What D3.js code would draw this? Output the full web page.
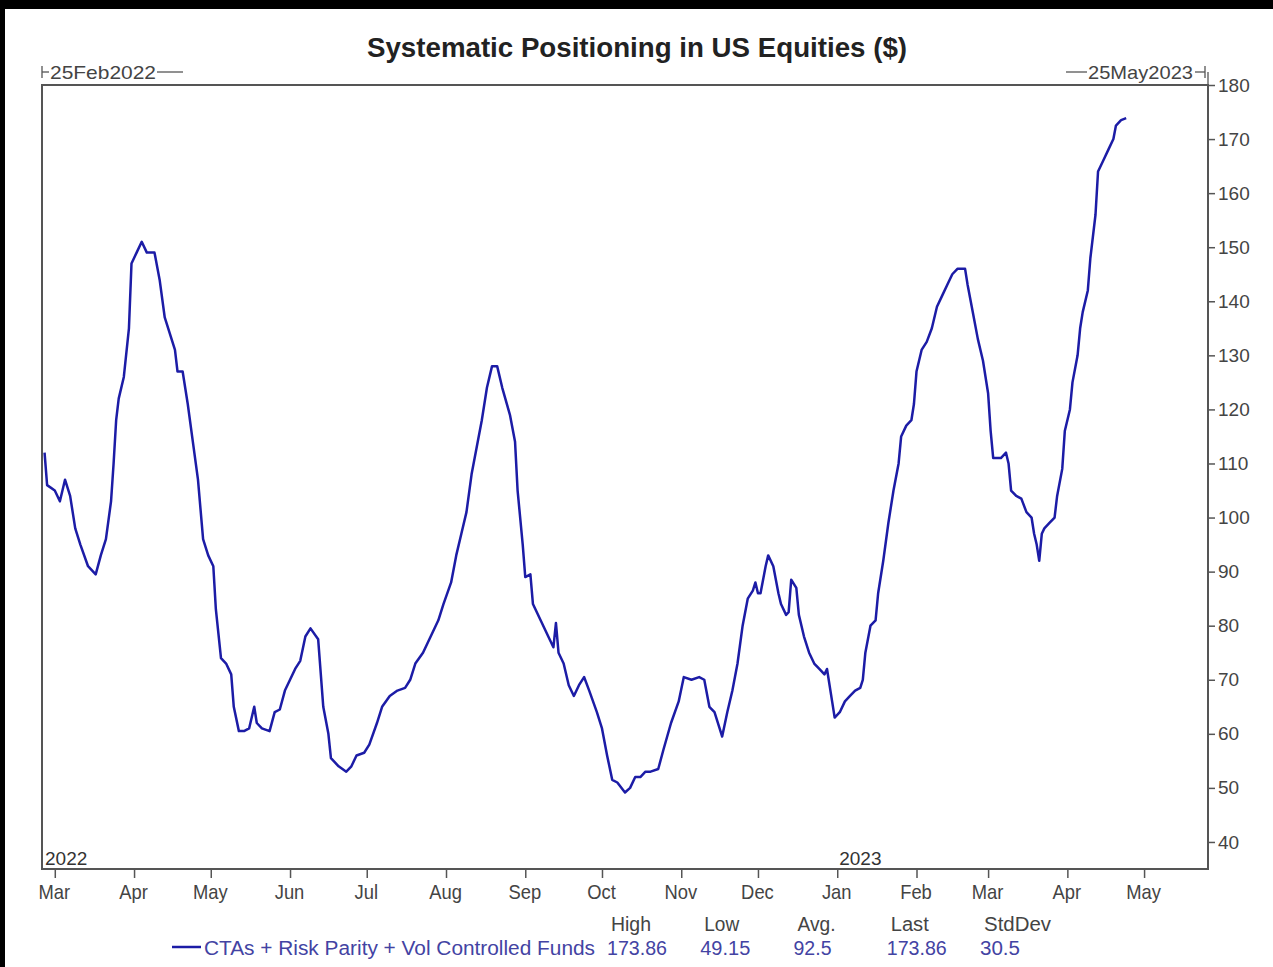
<!DOCTYPE html>
<html>
<head>
<meta charset="utf-8">
<script src="https://cdn.jsdelivr.net/npm/d3@7"></script>
<style>
  html, body { margin: 0; padding: 0; background: #fff; }
  svg { display: block; }
  text { font-family: "Liberation Sans", Arial, sans-serif; }
</style>
</head>
<body>
<svg id="chart" width="1273" height="967"></svg>
<script>
// ---------------- data ----------------
const dates = [
  "2022-02-25","2022-02-26","2022-03-01","2022-03-03","2022-03-05","2022-03-07","2022-03-09","2022-03-11","2022-03-14","2022-03-17",
  "2022-03-19","2022-03-21","2022-03-23","2022-03-24","2022-03-25","2022-03-26","2022-03-28","2022-03-30","2022-03-31","2022-04-02",
  "2022-04-04","2022-04-06","2022-04-09","2022-04-11","2022-04-13","2022-04-15","2022-04-17","2022-04-18","2022-04-20","2022-04-22",
  "2022-04-24","2022-04-26","2022-04-28","2022-04-30","2022-05-02","2022-05-03","2022-05-05","2022-05-07","2022-05-09","2022-05-10",
  "2022-05-12","2022-05-14","2022-05-16","2022-05-18","2022-05-19","2022-05-21","2022-05-24","2022-05-26","2022-05-28","2022-05-30",
  "2022-06-01","2022-06-03","2022-06-05","2022-06-07","2022-06-09","2022-06-12","2022-06-14","2022-06-16","2022-06-17","2022-06-20",
  "2022-06-23","2022-06-25","2022-06-27","2022-06-30","2022-07-02","2022-07-05","2022-07-07","2022-07-10","2022-07-13","2022-07-16",
  "2022-07-18","2022-07-20","2022-07-23","2022-07-26","2022-07-29","2022-07-31","2022-08-03","2022-08-05","2022-08-07","2022-08-09",
  "2022-08-11","2022-08-13","2022-08-15","2022-08-17","2022-08-19","2022-08-21","2022-08-23","2022-08-26","2022-08-28","2022-08-29",
  "2022-08-31","2022-09-01","2022-09-03","2022-09-04","2022-09-07","2022-09-10","2022-09-12","2022-09-13","2022-09-14","2022-09-16",
  "2022-09-18","2022-09-20","2022-09-22","2022-09-24","2022-09-26","2022-09-29","2022-10-01","2022-10-03","2022-10-05","2022-10-07",
  "2022-10-10","2022-10-12","2022-10-14","2022-10-16","2022-10-18","2022-10-20","2022-10-23","2022-10-25","2022-10-28","2022-10-31",
  "2022-11-02","2022-11-05","2022-11-08","2022-11-10","2022-11-12","2022-11-14","2022-11-16","2022-11-17","2022-11-19","2022-11-21",
  "2022-11-23","2022-11-25","2022-11-27","2022-11-29","2022-11-30","2022-12-01","2022-12-02","2022-12-04","2022-12-05","2022-12-07",
  "2022-12-09","2022-12-10","2022-12-12","2022-12-13","2022-12-14","2022-12-16","2022-12-17","2022-12-19","2022-12-21","2022-12-23",
  "2022-12-25","2022-12-27","2022-12-28","2022-12-30","2022-12-31","2023-01-02","2023-01-04","2023-01-06","2023-01-08","2023-01-10",
  "2023-01-11","2023-01-12","2023-01-14","2023-01-16","2023-01-17","2023-01-19","2023-01-21","2023-01-23","2023-01-25","2023-01-26",
  "2023-01-28","2023-01-30","2023-01-31","2023-02-01","2023-02-03","2023-02-05","2023-02-07","2023-02-09","2023-02-11","2023-02-13",
  "2023-02-15","2023-02-17","2023-02-20","2023-02-21","2023-02-23","2023-02-25","2023-02-27","2023-03-01","2023-03-02","2023-03-03",
  "2023-03-06","2023-03-08","2023-03-09","2023-03-10","2023-03-12","2023-03-14","2023-03-16","2023-03-18","2023-03-19","2023-03-20",
  "2023-03-21","2023-03-22","2023-03-23","2023-03-25","2023-03-27","2023-03-28","2023-03-30","2023-03-31","2023-04-02","2023-04-03",
  "2023-04-05","2023-04-06","2023-04-07","2023-04-09","2023-04-10","2023-04-12","2023-04-13","2023-04-15","2023-04-17","2023-04-19",
  "2023-04-20","2023-04-22","2023-04-24"
];
const values = [
  112,106,105,103,107,104,98,95,91,89.5,
  93,96,103,110,118,122,126,135,147,149,
  151,149,149,144,137,134,131,127,127,121,
  114,107,96,93,91,83,74,73,71,65,
  60.5,60.5,61,65,62,61,60.5,64,64.5,68,
  70,72,73.5,78,79.5,77.5,65,60,55.5,54,
  53,54,56,56.5,58,62,65,67,68,68.5,
  70,73,75,78,81,84,88,93,97,101,
  108,113,118,124,128,128,124,119,114,105,
  95,89,89.5,84,81,78,76,80.5,75,73,
  69,67,69,70.5,68,64,61,56,51.5,51,
  49.15,50,52,52,53,53,53.5,57,62,66,
  70.5,70,70.5,70,65,64,61,59.5,64,68,
  73,80,85,86.5,88,86,86,91,93,91,
  86,84,82,82.5,88.5,87,82,78,75,73,
  72,71,72,66,63,64,66,67,68,68.5,
  70,75,80,81,86,92,99,105,110,115,
  117,118,121,127,131,132.5,135,139,141,143,
  145,146,146,143,138,133,129,123,116,111,
  111,112,110,105,104,103.5,101,100,97,95,
  92,97,98,99,100,104,109,116,120,125,
  130,135,138,142,148,156,164,166,168,170,
  172.5,173.5,173.86
];
const yTicks = [40,50,60,70,80,90,100,110,120,130,140,150,160,170,180];
const seriesName = "CTAs + Risk Parity + Vol Controlled Funds";
const statNames = ["High","Low","Avg.","Last","StdDev"];
const statValues = ["173.86","49.15","92.5","173.86","30.5"];
const title = "Systematic Positioning in US Equities ($)";
const startLabel = "25Feb2022";
const endLabel = "25May2023";
const yearLabels = ["2022","2023"];

// ---------------- drawing ----------------
const parse = d3.timeParse("%Y-%m-%d");
const data = dates.map((d, i) => ({ date: parse(d), value: values[i] }));

const svg = d3.select("#chart");
const L = 42, R = 1208, T = 85, B = 869;
const lineColor = "#1c1ca6";
const axisColor = "#555";
const textColor = "#444";
const legendColor = "#4343a3";

// black strips of the screenshot border
svg.append("rect").attr("x", 0).attr("y", 0).attr("width", 1273).attr("height", 9).attr("fill", "#000");
svg.append("rect").attr("x", 0).attr("y", 0).attr("width", 5).attr("height", 967).attr("fill", "#000");

const x = d3.scaleTime()
  .domain([parse("2022-02-24"), parse("2023-05-26")])
  .range([L, R]);
const y = d3.scaleLinear().domain([35, 180]).range([B, T]);

// title
svg.append("text")
  .attr("x", 637).attr("y", 57)
  .attr("text-anchor", "middle")
  .attr("font-size", 27).attr("font-weight", "bold")
  .attr("fill", "#222")
  .attr("textLength", 540).attr("lengthAdjust", "spacingAndGlyphs")
  .text(title);

// frame
svg.append("rect")
  .attr("x", L).attr("y", T).attr("width", R - L).attr("height", B - T)
  .attr("fill", "none").attr("stroke", axisColor).attr("stroke-width", 2);

// date range brackets
const bracketY = 72;
const g0 = svg.append("g").attr("stroke", "#555").attr("stroke-width", 1.3);
g0.append("line").attr("x1", L).attr("x2", L).attr("y1", bracketY - 6).attr("y2", bracketY + 6);
g0.append("line").attr("x1", L).attr("x2", L + 7).attr("y1", bracketY).attr("y2", bracketY);
g0.append("line").attr("x1", 157).attr("x2", 183).attr("y1", bracketY).attr("y2", bracketY);
g0.append("line").attr("x1", R - 3).attr("x2", R - 3).attr("y1", bracketY - 6).attr("y2", bracketY + 6);
g0.append("line").attr("x1", R - 13).attr("x2", R - 3).attr("y1", bracketY).attr("y2", bracketY);
g0.append("line").attr("x1", 1066).attr("x2", 1087).attr("y1", bracketY).attr("y2", bracketY);
g0.append("line").attr("x1", R).attr("x2", R).attr("y1", bracketY).attr("y2", T);
svg.append("text").attr("x", L + 8).attr("y", bracketY + 7)
  .attr("font-size", 19).attr("fill", textColor)
  .attr("textLength", 106).attr("lengthAdjust", "spacingAndGlyphs").text(startLabel);
svg.append("text").attr("x", 1088).attr("y", bracketY + 7)
  .attr("font-size", 19).attr("fill", textColor)
  .attr("textLength", 105).attr("lengthAdjust", "spacingAndGlyphs").text(endLabel);

// right axis
const yAxis = d3.axisRight(y).tickValues(yTicks).tickSize(7).tickPadding(3);
const gy = svg.append("g").attr("transform", `translate(${R},0)`).call(yAxis);
gy.select(".domain").remove();
gy.selectAll(".tick line").attr("stroke", axisColor).attr("stroke-width", 1.5);
gy.selectAll(".tick text").attr("font-size", 19).attr("fill", textColor)
  .attr("font-family", "Liberation Sans, Arial, sans-serif");

// bottom axis
const xAxis = d3.axisBottom(x)
  .ticks(d3.timeMonth.every(1))
  .tickFormat(d3.timeFormat("%b"))
  .tickSize(9).tickPadding(7);
const gx = svg.append("g").attr("transform", `translate(0,${B})`).call(xAxis);
gx.select(".domain").remove();
gx.selectAll(".tick line").attr("stroke", axisColor).attr("stroke-width", 1.5);
gx.selectAll(".tick text").attr("font-size", 20).attr("fill", textColor)
  .attr("font-family", "Liberation Sans, Arial, sans-serif")
  .attr("transform", "translate(-1,0) scale(0.92,1)");

// year labels
svg.append("text").attr("x", L + 3).attr("y", B - 4)
  .attr("font-size", 19).attr("fill", "#333").text(yearLabels[0]);
svg.append("text").attr("x", x(parse("2023-01-01")) + 2).attr("y", B - 4)
  .attr("font-size", 19).attr("fill", "#333").text(yearLabels[1]);

// line
const line = d3.line().x(d => x(d.date)).y(d => y(d.value));
svg.append("path").datum(data)
  .attr("d", line)
  .attr("fill", "none")
  .attr("stroke", lineColor)
  .attr("stroke-width", 2.5)
  .attr("stroke-linejoin", "round");

// legend
svg.append("line").attr("x1", 172).attr("x2", 201).attr("y1", 947).attr("y2", 947)
  .attr("stroke", lineColor).attr("stroke-width", 2.5);
svg.append("text").attr("x", 204).attr("y", 955)
  .attr("font-size", 20).attr("fill", legendColor)
  .attr("textLength", 391).attr("lengthAdjust", "spacingAndGlyphs").text(seriesName);

const statX = d3.scaleLinear().domain([0, 4]).range([607, 980]);
const headW = [40, 35, 38, 38, 67];
const valW = [60, 50, 38, 60, 40];
svg.append("g").selectAll("text").data(statNames).join("text")
  .attr("x", (d, i) => statX(i) + 4).attr("y", 931)
  .attr("font-size", 20).attr("fill", textColor)
  .attr("textLength", (d, i) => headW[i]).attr("lengthAdjust", "spacingAndGlyphs")
  .text(d => d);
svg.append("g").selectAll("text").data(statValues).join("text")
  .attr("x", (d, i) => statX(i)).attr("y", 955)
  .attr("font-size", 20).attr("fill", legendColor)
  .attr("textLength", (d, i) => valW[i]).attr("lengthAdjust", "spacingAndGlyphs")
  .text(d => d);
</script>
</body>
</html>
